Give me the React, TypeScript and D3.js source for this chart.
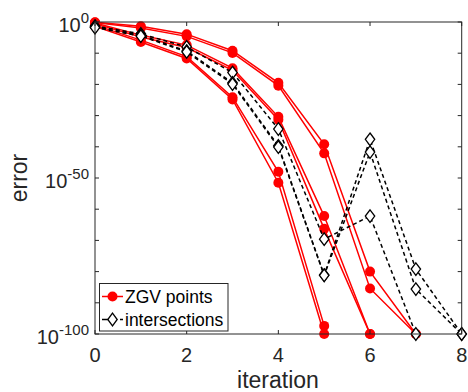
import React from "react";
import * as d3 from "d3";

// iterations (x) and error exponents (log10 of error)
const iterations = [0, 1, 2, 3, 4, 5, 6, 7, 8];

const zgv1 = [-0.1, -1.4, -3.9, -9.2, -19.5, -39.2, -80.0, -100];
const zgv2 = [-0.2, -1.9, -4.6, -9.9, -20.4, -42.1, -85.4, -100];
const zgv3 = [-0.3, -4.2, -7.4, -14.8, -30.4, -62.2, -100];
const zgv4 = [-0.6, -4.8, -8.2, -15.5, -31.3, -66.3, -100];
const zgv5 = [-1.0, -5.8, -11.1, -24.1, -48.0, -97.4];
const zgv6 = [-1.4, -6.4, -11.7, -24.8, -51.5, -100];

const int1 = [-1.3, -3.8, -8.0, -16.2, -34.3, -69.6, -62.2, -100];
const int2 = [-1.6, -4.2, -9.3, -19.5, -39.7, -81.1, -37.6, -79.2, -100];
const int3 = [-1.8, -4.5, -9.6, -19.9, -40.1, -81.2, -41.7, -85.6, -100];

const zgvSeries = [zgv1, zgv2, zgv3, zgv4, zgv5, zgv6];
const intSeries = [int1, int2, int3];

const xTicks = [0, 2, 4, 6, 8];
const yLabelExps = [0, -50, -100];
const yTickExps = [0, -10, -20, -30, -40, -50, -60, -70, -80, -90, -100];

const legendLabels = ["ZGV points", "intersections"];

const FONT = "'Liberation Sans', Arial, Helvetica, sans-serif";
const AX = "#262626";

export default function App() {
  const W = 468;
  const H = 392;
  const left = 95, right = 461.7, top = 22, bottom = 334;
  const x = d3.scaleLinear().domain([0, 8]).range([left, right]);
  const y = d3.scaleLog().domain([1, 1e-100]).range([top, bottom]);
  const py = (e: number) => y(Math.pow(10, e));

  const line = d3
    .line<number>()
    .x((_, i) => x(iterations[i]))
    .y((e) => py(e));

  const diamond = (cx: number, cy: number) =>
    `M${cx},${cy - 6.3}L${cx + 4.7},${cy}L${cx},${cy + 6.3}L${cx - 4.7},${cy}Z`;

  const tl = 4;

  return (
    <svg
      width={W}
      height={H}
      style={{ position: "absolute", left: 0, top: 0, background: "#fff" }}
      fontFamily={FONT}
    >
      <rect x={0} y={0} width={W} height={H} fill="#fff" />
      {/* ZGV series */}
      {zgvSeries.map((s, k) => (
        <path key={"zl" + k} d={line(s) || ""} fill="none" stroke="#ff0000" strokeWidth={1.5} />
      ))}
      {zgvSeries.map((s, k) =>
        s.map((e, i) => (
          <circle key={"zc" + k + "-" + i} cx={x(iterations[i])} cy={py(e)} r={5} fill="#ff0000" />
        ))
      )}
      {/* intersections */}
      {intSeries.map((s, k) => (
        <path
          key={"il" + k}
          d={line(s) || ""}
          fill="none"
          stroke="#000"
          strokeWidth={1.5}
          strokeDasharray="4,3"
        />
      ))}
      {intSeries.map((s, k) =>
        s.map((e, i) => (
          <path
            key={"id" + k + "-" + i}
            d={diamond(x(iterations[i]), py(e))}
            fill="#fff"
            stroke="#000"
            strokeWidth={1.3}
          />
        ))
      )}

      {/* axes box */}
      <rect x={left} y={top} width={right - left} height={bottom - top} fill="none" stroke={AX} strokeWidth={1} />
      {xTicks.map((t) => (
        <g key={"xt" + t}>
          <line x1={x(t)} x2={x(t)} y1={bottom} y2={bottom - tl} stroke={AX} />
          <line x1={x(t)} x2={x(t)} y1={top} y2={top + tl} stroke={AX} />
          <text x={x(t)} y={362} fontSize={20} textAnchor="middle" fill={AX}>
            {t}
          </text>
        </g>
      ))}
      {yTickExps.map((e) => (
        <g key={"yt" + e}>
          <line x1={left} x2={left + tl} y1={py(e)} y2={py(e)} stroke={AX} />
          <line x1={right} x2={right - tl} y1={py(e)} y2={py(e)} stroke={AX} />
        </g>
      ))}
      {yLabelExps.map((e) => (
        <text key={"yl" + e} x={89} y={py(e) + 10} fontSize={20} textAnchor="end" fill={AX}>
          <tspan>10</tspan>
          <tspan fontSize={15} dy={-9}>
            {String(e)}
          </tspan>
        </text>
      ))}

      {/* axis labels */}
      <text x={278} y={388} fontSize={23} textAnchor="middle" fill={AX}>
        iteration
      </text>
      <text
        transform={`translate(27,${(top + bottom) / 2}) rotate(-90)`}
        fontSize={23}
        textAnchor="middle"
        fill={AX}
      >
        error
      </text>

      {/* legend */}
      <rect x={99.5} y={283.5} width={128.5} height={47.5} fill="#fff" stroke={AX} strokeWidth={1} />
      <line x1={102} x2={123} y1={296.5} y2={296.5} stroke="#ff0000" strokeWidth={1.5} />
      <circle cx={112.5} cy={296.5} r={5} fill="#ff0000" />
      <text x={125} y={302.5} fontSize={17.5} fill="#000">
        {legendLabels[0]}
      </text>
      <line x1={102} x2={123} y1={319.5} y2={319.5} stroke="#000" strokeWidth={1.5} strokeDasharray="6,3" />
      <path d={diamond(112.5, 319.5)} fill="#fff" stroke="#000" strokeWidth={1.3} />
      <text x={125} y={325.5} fontSize={17.5} fill="#000">
        {legendLabels[1]}
      </text>
    </svg>
  );
}
